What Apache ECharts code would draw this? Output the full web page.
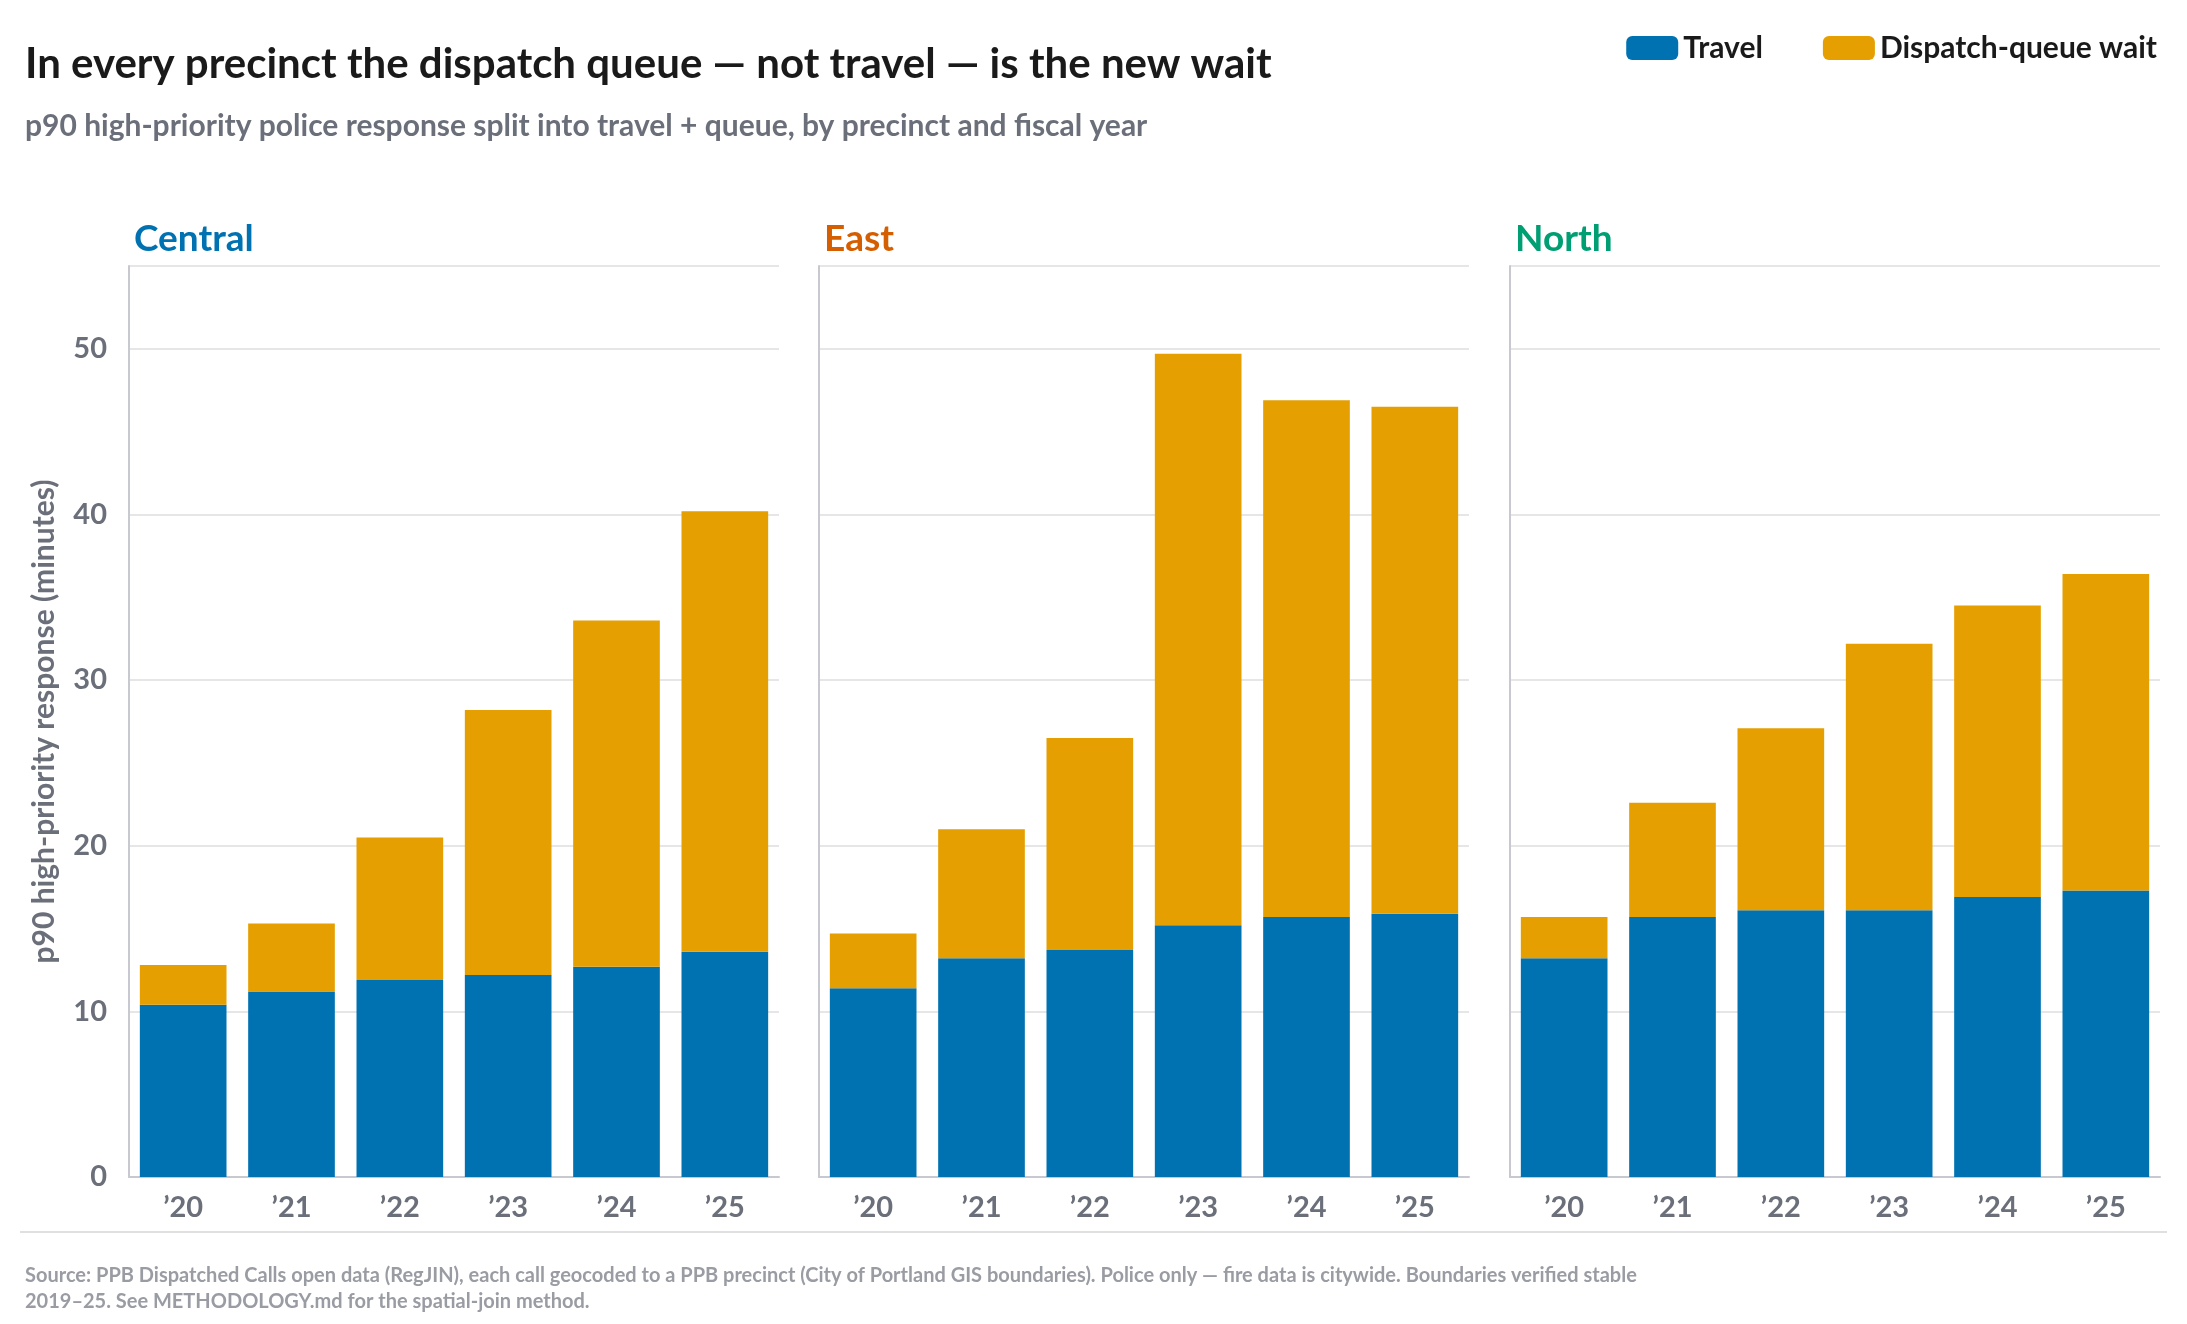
<!DOCTYPE html>
<html><head><meta charset="utf-8">
<script src="https://cdn.jsdelivr.net/npm/echarts@6/dist/echarts.min.js"></script>
<style>html,body{margin:0;background:#fff}#c{width:2187px;height:1324px}</style>
</head><body><div id="c"></div>
<script>
const years = ["’20", "’21", "’22", "’23", "’24", "’25"];
const precincts = ['Central', 'East', 'North'];
const precinctColors = ['#0072b2', '#d55e00', '#009e73'];
const travel = [
    [10.4, 11.2, 11.9, 12.2, 12.7, 13.6],
    [11.4, 13.2, 13.7, 15.2, 15.7, 15.9],
    [13.2, 15.7, 16.1, 16.1, 16.9, 17.3]
];
const total = [
    [12.8, 15.3, 20.5, 28.2, 33.6, 40.2],
    [14.7, 21.0, 26.5, 49.7, 46.9, 46.5],
    [15.7, 22.6, 27.1, 32.2, 34.5, 36.4]
];
const queue = total.map((row, i) => row.map((v, j) => +(v - travel[i][j]).toFixed(1)));

const font = 'Lato, "Open Sans", sans-serif';
const lefts = [129, 819, 1510];
const gridW = 650;
const grids = [], xAxes = [], yAxes = [], series = [], titles = [];

titles.push({
    text: 'In every precinct the dispatch queue — not travel — is the new wait',
    left: 20, top: 38,
    textStyle: { fontFamily: font, fontSize: 42, fontWeight: 'bold', color: '#1a1a1a' }
});
titles.push({
    text: 'p90 high-priority police response split into travel + queue, by precinct and fiscal year',
    left: 20, top: 106,
    textStyle: { fontFamily: font, fontSize: 30, fontWeight: 'bold', color: '#6b6f7a' }
});
titles.push({
    text: 'Source: PPB Dispatched Calls open data (RegJIN), each call geocoded to a PPB precinct (City of Portland GIS boundaries). Police only — fire data is citywide. Boundaries verified stable\n2019–25. See METHODOLOGY.md for the spatial-join method.',
    left: 20, top: 1258,
    textStyle: { fontFamily: font, fontSize: 20, fontWeight: 'bold', color: '#9a9ca3', lineHeight: 26 }
});

precincts.forEach((p, i) => {
    grids.push({ left: lefts[i], width: gridW, top: 266, bottom: 147 });
    titles.push({
        text: p, left: lefts[i], top: 216,
        textStyle: { fontFamily: font, fontSize: 37, fontWeight: 'bold', color: precinctColors[i] }
    });
    xAxes.push({
        type: 'category', gridIndex: i, data: years,
        axisLine: { lineStyle: { color: '#c8c8d0', width: 2 } },
        axisTick: { show: false },
        axisLabel: { fontFamily: font, fontSize: 29, fontWeight: 'bold', color: '#6b6f7a', margin: 16 }
    });
    yAxes.push({
        type: 'value', gridIndex: i, min: 0, max: 55, interval: 10,
        name: i === 0 ? 'p90 high-priority response (minutes)' : '',
        nameLocation: 'middle', nameGap: 70,
        nameTextStyle: { fontFamily: font, fontSize: 30, fontWeight: 'bold', color: '#6b6f7a' },
        axisLine: { show: true, lineStyle: { color: '#c8c8d0', width: 2 } },
        axisTick: { show: false },
        axisLabel: { show: i === 0, showMaxLabel: false, fontFamily: font, fontSize: 29, fontWeight: 'bold', color: '#6b6f7a', margin: 22 },
        splitLine: { lineStyle: { color: '#e6e6e6', width: 2 } }
    });
    series.push({
        name: 'Travel', type: 'bar', stack: 's' + i, xAxisIndex: i, yAxisIndex: i,
        data: travel[i], barWidth: '80%', itemStyle: { color: '#0072b2' }
    });
    series.push({
        name: 'Dispatch-queue wait', type: 'bar', stack: 's' + i, xAxisIndex: i, yAxisIndex: i,
        data: queue[i], barWidth: '80%', itemStyle: { color: '#e69f00' }
    });
});

const chart = echarts.init(document.getElementById('c'));
chart.setOption({
    animation: false,
    title: titles,
    legend: {
        data: ['Travel', 'Dispatch-queue wait'], right: 25, top: 28,
        itemWidth: 52, itemHeight: 24, itemGap: 60,
        textStyle: { fontFamily: font, fontSize: 30, fontWeight: 'bold', color: '#1a1a1a' }
    },
    graphic: [{ type: 'line', shape: { x1: 20, y1: 1232, x2: 2167, y2: 1232 }, style: { stroke: '#e0e0e0', lineWidth: 2 } }],
    grid: grids, xAxis: xAxes, yAxis: yAxes, series: series
});
</script></body></html>
